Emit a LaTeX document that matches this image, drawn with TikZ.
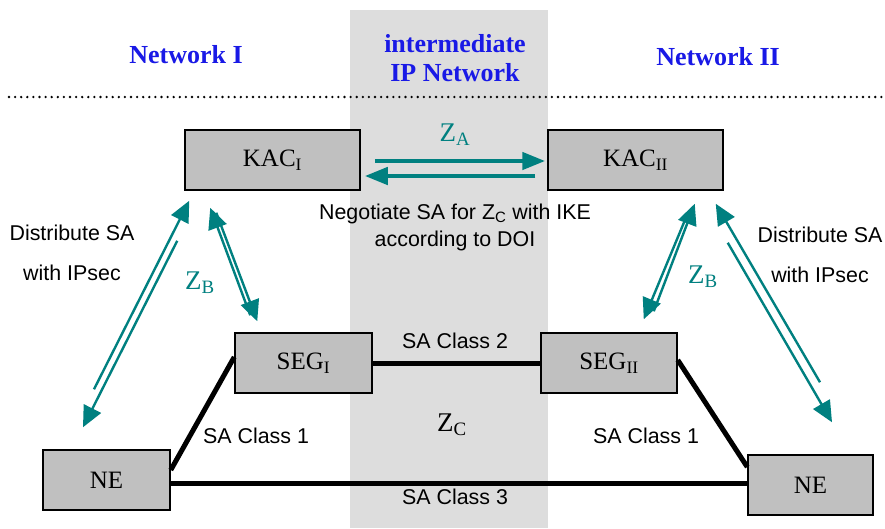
\documentclass[tikz,border=0pt]{standalone}
\usepackage{fontspec}
\setmainfont{Liberation Serif}
\setsansfont{Liberation Sans}
\usetikzlibrary{arrows.meta}
\definecolor{teal}{RGB}{0,128,128}
\definecolor{netblue}{RGB}{25,25,230}
\definecolor{band}{RGB}{221,221,221}
\definecolor{boxgray}{RGB}{192,192,192}
\tikzstyle{box} = [rectangle, draw=black, fill=boxgray, line width=1.5pt, minimum height=60pt, font=\fontsize{25}{27}\selectfont]
\tikzstyle{title} = [align=center, text=netblue, font=\fontsize{26}{29}\selectfont\bfseries]
\tikzstyle{lbl} = [align=center, font=\sffamily\fontsize{21.4}{27}\selectfont]
\tikzstyle{zlbl} = [text=teal, font=\fontsize{27}{28}\selectfont]
\tikzstyle{link} = [line width=5pt]
\tikzstyle{thin arrow} = [draw=teal, line width=2.4pt, -{Triangle[length=21pt,width=19pt]}]
\tikzstyle{thick arrow} = [draw=teal, line width=4.5pt, -{Triangle[length=23pt,width=17pt]}]

\begin{document}
\begin{tikzpicture}[x=1pt, y=-1pt]
	\useasboundingbox (0,0) rectangle (885,528);
	\fill[white] (0,0) rectangle (885,528);
	\fill[band] (350,10) rectangle (548,528);

	\node[title] (net1) at (186,55) {Network I};
	\node[title] (netmid) at (455,58) {intermediate\\IP Network};
	\node[title] (net2) at (718,57) {Network II};
	\draw[line width=2.6pt, line cap=round, dash pattern=on 0pt off 6.1pt] (9,97) -- (885,97);

	\node[box, minimum width=175pt] (kacI) at (272.5,160) {KAC\textsubscript{I}};
	\node[box, minimum width=175pt] (kacII) at (635.5,160) {KAC\textsubscript{II}};
	\node[box, minimum width=137pt] (segI) at (303.5,363) {SEG\textsubscript{I}};
	\node[box, minimum width=136pt] (segII) at (609,363) {SEG\textsubscript{II}};
	\node[box, minimum width=127pt] (neI) at (106.5,480) {NE};
	\node[box, minimum width=125pt] (neII) at (810.5,485) {NE};

	% links between the gateways and elements
	\draw[link] (segI.east) -- (segII.west);
	\draw[link] ([yshift=10pt]neI.east) -- ([yshift=6pt]segI.west);
	\draw[link] ([yshift=3pt]segII.east) -- ([yshift=18pt]neII.west);
	\draw[link] ([yshift=-3pt]neI.east) -- ([yshift=2pt]neII.west);

	\node[lbl] (class2) at (455,341) {SA Class 2};
	\node[lbl] (class1a) at (256,436) {SA Class 1};
	\node[lbl] (class1b) at (646,436) {SA Class 1};
	\node[lbl] (class3) at (455,497) {SA Class 3};
	\node[zlbl, text=black] (zc) at (452,425) {Z\textsubscript{C}};

	% Z_A between the key centres
	\draw[thick arrow] ([xshift=14pt,yshift=-1pt]kacI.east) -- ([xshift=-2pt,yshift=-1pt]kacII.west);
	\draw[thick arrow] ([xshift=-12pt,yshift=-16pt]kacII.west) -- ([xshift=4pt,yshift=-16pt]kacI.east);
	\node[zlbl] (za) at (455,135) {Z\textsubscript{A}};
	\node[lbl] (nego) at (455,227) {Negotiate SA for Z\textsubscript{C} with IKE\\according to DOI};

	% ends of the distribution arrows
	\coordinate (dl0) at ([xshift=-12.5pt,yshift=60pt]neI.north);
	\coordinate (dl1) at ([xshift=5pt,yshift=-10pt]kacI.south west);
	\coordinate (dl2) at ([xshift=-7pt,yshift=-50pt]kacI.south west);
	\coordinate (dl3) at ([xshift=-23.5pt,yshift=22pt]neI.north);
	\coordinate (dr0) at ([xshift=9.5pt,yshift=72pt]neII.north);
	\coordinate (dr1) at ([xshift=-8pt,yshift=-13pt]kacII.south east);
	\coordinate (dr2) at ([xshift=4pt,yshift=-52pt]kacII.south east);
	\coordinate (dr3) at ([xshift=21.5pt,yshift=32pt]neII.north);
	\coordinate (bl0) at ([xshift=16pt,yshift=17pt]segI.north west);
	\coordinate (bl1) at ([xshift=26pt,yshift=-17pt]kacI.south west);
	\coordinate (bl2) at ([xshift=32pt,yshift=-22pt]kacI.south west);
	\coordinate (bl3) at ([xshift=23pt,yshift=11pt]segI.north west);
	\coordinate (br0) at ([xshift=-24pt,yshift=21pt]segII.north east);
	\coordinate (br1) at ([xshift=-29pt,yshift=-13pt]kacII.south east);
	\coordinate (br2) at ([xshift=-37pt,yshift=-25pt]kacII.south east);
	\coordinate (br3) at ([xshift=-34pt,yshift=13pt]segII.north east);

	\foreach \a/\b in {dl0/dl1, dl2/dl3, dr0/dr1, dr2/dr3, bl0/bl1, bl2/bl3, br0/br1, br2/br3}{
		\draw[thin arrow] (\a) -- (\b);
	}

	\node[lbl, font=\sffamily\fontsize{21.4}{40}\selectfont] (distI) at (72,253) {Distribute SA\\with IPsec};
	\node[lbl, font=\sffamily\fontsize{21.4}{40}\selectfont] (distII) at (820,255) {Distribute SA\\with IPsec};
	\node[zlbl] (zbI) at (200,283) {Z\textsubscript{B}};
	\node[zlbl] (zbII) at (703,277) {Z\textsubscript{B}};
\end{tikzpicture}
\end{document}
